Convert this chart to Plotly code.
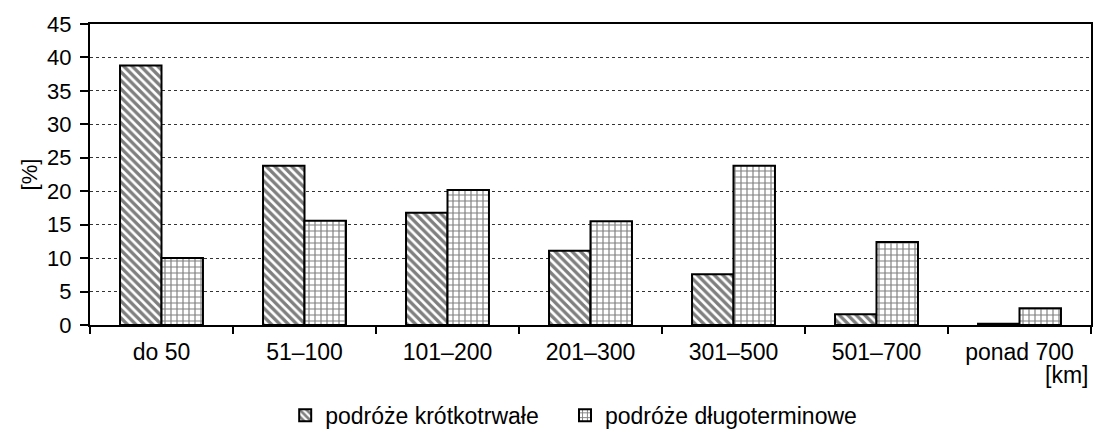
import plotly.graph_objects as go

# distance classes and shares of trips
categories = ["do 50", "51–100", "101–200", "201–300", "301–500", "501–700", "ponad 700"]
short_trips = [38.8, 23.8, 16.8, 11.1, 7.6, 1.6, 0.2]
long_trips = [10.0, 15.6, 20.2, 15.5, 23.8, 12.4, 2.5]
y_ticks = [0, 5, 10, 15, 20, 25, 30, 35, 40, 45]

font_family = "Liberation Sans, Arial, sans-serif"

fig = go.Figure()
fig.add_trace(go.Bar(
    x=categories, y=short_trips, name="podróże krótkotrwałe", legend="legend",
    marker=dict(color="white", line=dict(color="black", width=2),
                pattern=dict(shape="\\", fgcolor="black", bgcolor="white",
                             size=6, solidity=0.55)),
))
fig.add_trace(go.Bar(
    x=categories, y=long_trips, name="podróże długoterminowe", legend="legend2",
    marker=dict(color="white", line=dict(color="black", width=2),
                pattern=dict(shape="+", fgcolor="black", bgcolor="white",
                             size=6, solidity=0.35)),
))

fig.update_layout(
    width=1093, height=434,
    margin=dict(l=90, r=2, t=24, b=109, autoexpand=False),
    plot_bgcolor="white", paper_bgcolor="white",
    barmode="group", bargap=0.42, bargroupgap=0,
    font=dict(family=font_family, size=23, color="black"),
    showlegend=True,
    legend=dict(orientation="h", x=0.195, xanchor="left", y=-0.30, yanchor="middle",
                font=dict(size=23), itemwidth=30),
    legend2=dict(orientation="h", x=0.4745, xanchor="left", y=-0.30, yanchor="middle",
                 font=dict(size=23), itemwidth=30),
    annotations=[dict(text="[km]", xref="paper", yref="paper", x=0.952, y=-0.166,
                      xanchor="left", yanchor="middle", showarrow=False,
                      font=dict(size=23))],
)
fig.update_xaxes(
    type="category", tickson="boundaries", ticks="outside", ticklen=7,
    tickwidth=2, tickcolor="black", showline=True, linecolor="black",
    linewidth=2, mirror=True, showgrid=False, ticklabelstandoff=5,
    tickfont=dict(size=23),
)
fig.update_yaxes(
    range=[0, 45], tickvals=y_ticks, ticks="outside", ticklen=8, tickwidth=2,
    tickcolor="black", showline=True, linecolor="black", linewidth=2,
    mirror=True, showgrid=True, gridcolor="#333333", griddash="dot",
    gridwidth=1, zeroline=False, tickfont=dict(size=22),
    ticklabelstandoff=4,
    title=dict(text="[%]", standoff=3, font=dict(size=22)),
)

# drop the default page margin so the figure fills the window exactly
fig.write_html("out.html", config={"displayModeBar": False},
               post_script="document.body.style.margin = '0';")
